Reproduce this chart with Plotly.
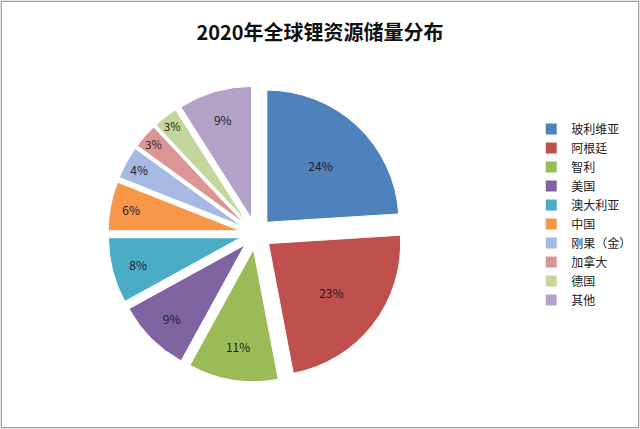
import plotly.graph_objects as go

labels = ["玻利维亚","阿根廷","智利","美国","澳大利亚","中国","刚果（金）","加拿大","德国","其他"]
values = [24,23,11,9,8,6,4,3,3,9]
colors = ["#4F81BD","#C0504D","#9BBB59","#8064A2","#4BACC6","#F79646","#A5B9E3","#D99694","#C3D69B","#B3A2C7"]

fig = go.Figure(go.Pie(
    labels=labels, values=values, sort=False, direction="clockwise", rotation=0,
    marker=dict(colors=colors, line=dict(color="white", width=1)),
    pull=[0.12]*10, texttemplate="%{percent:.0%}", textposition="inside",
    insidetextorientation="horizontal",
    insidetextfont=dict(color="#222", size=12), textinfo="percent",
    domain=dict(x=[0.04,0.76], y=[0.11,0.80])
))
fig.update_layout(
    width=640, height=429, margin=dict(l=0,r=0,t=0,b=0,autoexpand=False),
    paper_bgcolor="white", font=dict(family="Noto Sans CJK SC", size=12, color="#222"),
    title=dict(text="<b>2020年全球锂资源储量分布</b>", x=0.5, y=0.94, xanchor="center",
               font=dict(size=20, color="#111")),
    legend=dict(x=0.83, y=0.5, yanchor="middle", font=dict(size=12), itemwidth=30),
    shapes=[dict(type="rect", xref="paper", yref="paper", x0=0.002, y0=0.003, x1=0.998, y1=0.997,
                 line=dict(color="#888", width=1))]
)
fig.write_html("out.html", config={"displayModeBar": False},
               post_script="document.body.style.margin='0';document.body.style.overflow='hidden';")
